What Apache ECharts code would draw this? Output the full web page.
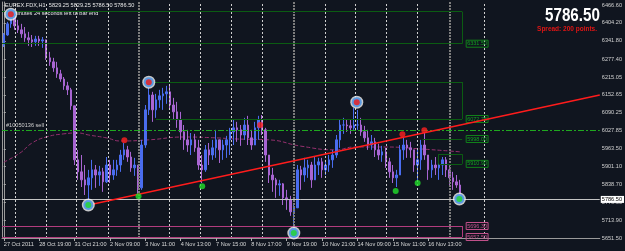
<!DOCTYPE html>
<html>
<head>
<meta charset="utf-8">
<script src="https://cdn.jsdelivr.net/npm/echarts@6/dist/echarts.min.js"></script>
<style>
html, body { margin: 0; padding: 0; background: #10151f; }
#myChart { width: 625px; height: 251px; }
</style>
</head>
<body>
<div id="myChart"></div>
<script>
// time labels, one every 10 bars
const timeLabels = ['27 Oct 2011', '28 Oct 19:00', '31 Oct 21:00', '2 Nov 09:00', '3 Nov 11:00', '4 Nov 13:00',
    '7 Nov 15:00', '8 Nov 17:00', '9 Nov 19:00', '10 Nov 21:00', '14 Nov 09:00', '15 Nov 11:00', '16 Nov 13:00'];
const priceTicks = [5651.50, 5713.90, 5776.30, 5838.70, 5901.10, 5963.50, 6027.85, 6090.25,
    6152.65, 6215.05, 6277.40, 6341.80, 6404.20, 6466.60];

const firstOpen = 6327;
const closes = [
    6362, 6401, 6429, 6394, 6380, 6366, 6352, 6345, 6338, 6348,
    6341, 6345, 6282, 6268, 6247, 6226, 6208, 6184, 6170, 6114,
    5925, 5883, 5855, 5837, 5862, 5890, 5872, 5883, 5848, 5907,
    5872, 5890, 5907, 5942, 5960, 5935, 5897, 5907, 5827, 5977,
    6100, 6152, 6100, 6135, 6149, 6156, 6163, 6117, 6093, 6065,
    6023, 5995, 5977, 5995, 5967, 5907, 5890, 5960, 5942, 5967,
    5995, 5960, 5977, 5995, 6023, 6037, 6030, 6012, 6047, 6002,
    5977, 6037, 6065, 6030, 5942, 5872, 5855, 5837, 5841, 5792,
    5785, 5743, 5757, 5890, 5872, 5897, 5907, 5855, 5907, 5918,
    5890, 5907, 5925, 5942, 5995, 6047, 6047, 6044, 6037, 6047,
    6047, 6023, 6002, 5977, 5988, 5960, 5942, 5953, 5918, 5883,
    5862, 5872, 5960, 5977, 5967, 5960, 5907, 5925, 5977, 5942,
    5890, 5907, 5897, 5907, 5925, 5890, 5862, 5848, 5837, 5786.5
];
const highs = [
    6369, 6408, 6439, 6436, 6415, 6401, 6390, 6373, 6362, 6359,
    6359, 6355, 6310, 6303, 6282, 6268, 6240, 6215, 6198, 6177,
    6019, 5960, 5942, 5907, 5890, 5925, 5907, 5904, 5897, 5935,
    5925, 5925, 5925, 5960, 5984, 5974, 5953, 5932, 5907, 5995,
    6117, 6177, 6163, 6156, 6170, 6177, 6184, 6187, 6142, 6128,
    6093, 6047, 6030, 6019, 6016, 5995, 5942, 5977, 5984, 5995,
    6030, 5988, 5995, 6009, 6037, 6065, 6058, 6047, 6072, 6079,
    6030, 6058, 6079, 6082, 6037, 5942, 5897, 5862, 5855, 5844,
    5820, 5799, 5767, 5907, 5904, 5932, 5925, 5918, 5935, 5932,
    5932, 5925, 5942, 5960, 6012, 6065, 6072, 6065, 6065, 6107,
    6100, 6072, 6044, 6030, 6012, 6002, 5981, 5974, 5967, 5932,
    5907, 5890, 5977, 6005, 5995, 5988, 5960, 5960, 5995, 6019,
    5942, 5925, 5935, 5932, 5935, 5935, 5907, 5883, 5872, 5855
];
const lows = [
    6320, 6359, 6387, 6380, 6369, 6352, 6338, 6324, 6320, 6324,
    6324, 6317, 6275, 6254, 6233, 6212, 6198, 6170, 6152, 6100,
    5907, 5855, 5830, 5802, 5781, 5820, 5827, 5834, 5813, 5844,
    5844, 5855, 5869, 5883, 5925, 5918, 5883, 5869, 5806, 5820,
    5967, 6082, 6058, 6072, 6107, 6100, 6121, 6100, 6065, 6037,
    5995, 5960, 5953, 5942, 5953, 5890, 5844, 5883, 5907, 5925,
    5932, 5914, 5925, 5932, 5942, 5977, 5988, 5974, 5995, 5977,
    5960, 5977, 5995, 6012, 5918, 5844, 5813, 5792, 5799, 5767,
    5750, 5729, 5697, 5767, 5820, 5848, 5862, 5827, 5862, 5872,
    5862, 5872, 5883, 5897, 5932, 5967, 6016, 6023, 6016, 6030,
    6030, 6009, 5988, 5960, 5960, 5935, 5925, 5918, 5897, 5862,
    5844, 5830, 5872, 5925, 5932, 5932, 5883, 5855, 5890, 5925,
    5855, 5862, 5872, 5855, 5872, 5865, 5830, 5820, 5827, 5785
];

// moving average, read at some bars: [bar, price]
const maPoints = [[0, 5917], [4.6, 5949], [8, 5984], [12, 6005], [17, 6016], [21, 6019], [24, 6012],
    [29, 6002], [33, 5991], [41, 5995], [51, 6005], [60, 6002], [66, 5998], [75, 5995], [84, 5973],
    [94, 5960], [99, 5970], [108, 5970], [118, 5963], [126, 5956], [129, 5953]];

// day separators (bar positions), the grey ones are heavier
const daySeps = [3.2, 11.9, 20.6, 29.4, 46.8, 55.5, 64.3, 73, 90.8, 99.5, 108.2, 117, 135.8];
const heavySeps = [38.1, 82, 126];

const trendLine = [[24, 5767], [168.5, 6152]];
const topRings = [[2, 6435], [41, 6197], [99.8, 6127]];
const bottomRings = [[23.9, 5767], [82, 5669], [128.8, 5788]];
const redDots = [[34.1, 5994], [72.5, 6047], [112.7, 6015], [118.9, 6029]];
const greenDots = [[38.1, 5798], [56.1, 5833], [110.8, 5816], [117, 5844]];

// levels: [price, from bar, label]
const greenLevels = [[6443.5, -0.5, ''], [6331.5, -0.5, '6331.50'], [6197.5, 41, ''],
    [6068.0, 43, '6072.75'], [5998.0, 118.4, '5998.00'], [5910.9, 122.9, '5910.90']];
const pinkLevels = [[5693.5, -0.5, '5696.30'], [5655.0, -0.5, '5657.50']];
// vertical joins at the right end of the levels: [bar, price from, price to]
const greenJoins = [[129.6, 6443.5, 6331.5], [129.6, 6197.5, 6068.0], [129.6, 5945, 5910.9], [122.9, 5945, 5910.9]];
const pinkJoins = [[129.6, 5693.5, 5655.0]];
const greenBoxTop = [[122.9, 129.6, 5945]];
const orderPrice = 6027;
const bidPrice = 5786.5;

const nCats = 169;
const levelEnd = 129.6;

let opens = [firstOpen].concat(closes.slice(0, -1));
let candles = closes.map((c, i) => [opens[i], c, lows[i], highs[i]]);
let cats = [];
for (let i = 0; i < nCats; i++) cats.push(String(i));

const smallFont = "'Liberation Sans', Arial, sans-serif";
const showLabel = (idx) => idx % 10 === 0 && idx / 10 < timeLabels.length;

let chartDom = document.getElementById('myChart');
let myChart = echarts.init(chartDom);

const greenLine = { color: '#0b5c12', width: 1, type: 'solid' };
const pinkLine = { color: '#b23c7e', width: 1, type: 'solid' };

let levelLines = [];
greenLevels.forEach(l => {
    levelLines.push([
        { coord: [l[1], l[0]], lineStyle: greenLine },
        { coord: [levelEnd, l[0]], label: {
            show: l[2] !== '', formatter: l[2], position: 'end', distance: 4,
            color: '#12a020', fontSize: 5.5, fontFamily: smallFont,
            borderColor: '#11801a', borderWidth: 1, padding: [1, 1, 0, 1]
        } }
    ]);
});
pinkLevels.forEach(l => {
    levelLines.push([
        { coord: [l[1], l[0]], lineStyle: pinkLine },
        { coord: [levelEnd, l[0]], label: {
            show: true, formatter: l[2], position: 'end', distance: 4,
            color: '#c0508a', fontSize: 5.5, fontFamily: smallFont,
            borderColor: '#c0508a', borderWidth: 1, padding: [1, 1, 0, 1]
        } }
    ]);
});
greenJoins.forEach(j => levelLines.push([{ coord: [j[0], j[1]], lineStyle: greenLine }, { coord: [j[0], j[2]] }]));
pinkJoins.forEach(j => levelLines.push([{ coord: [j[0], j[1]], lineStyle: pinkLine }, { coord: [j[0], j[2]] }]));
greenBoxTop.forEach(b => levelLines.push([{ coord: [b[0], b[2]], lineStyle: greenLine }, { coord: [b[1], b[2]] }]));

let option = {
    backgroundColor: '#10151f',
    animation: false,
    grid: { left: 2, right: 23, top: 2, bottom: 13 },
    xAxis: [{
        type: 'category',
        data: cats,
        boundaryGap: true,
        axisLine: { show: true, lineStyle: { color: '#9a9a9a', width: 1 } },
        axisTick: {
            show: true, length: 3, alignWithLabel: true,
            interval: showLabel,
            lineStyle: { color: '#b0b0b0' }
        },
        axisLabel: {
            show: true, margin: 3, align: 'left', color: '#d8d8d8',
            fontSize: 5.6, fontFamily: smallFont,
            showMinLabel: true, hideOverlap: false,
            interval: showLabel,
            formatter: (val, idx) => timeLabels[idx / 10] || ''
        },
        splitLine: { show: false }
    }, {
        type: 'value',
        min: -0.5,
        max: nCats - 0.5,
        show: false
    }],
    yAxis: [{
        type: 'value',
        position: 'right',
        min: 5651.5,
        max: 6477.5,
        axisLine: { show: true, lineStyle: { color: '#9a9a9a', width: 1 } },
        axisTick: { show: true, length: 2, customValues: priceTicks, lineStyle: { color: '#b0b0b0' } },
        axisLabel: {
            customValues: priceTicks, margin: 2, color: '#d0d0d0',
            fontSize: 5.6, fontFamily: smallFont,
            formatter: (v) => v.toFixed(2)
        },
        splitLine: { show: false }
    }, {
        type: 'value',
        position: 'left',
        min: 5651.5,
        max: 6477.5,
        axisLine: { show: true, lineStyle: { color: '#9a9a9a', width: 1 } },
        axisTick: { show: false },
        axisLabel: { show: false },
        splitLine: { show: false }
    }],
    series: [{
        // period separators and level lines
        type: 'line',
        xAxisIndex: 1,
        data: [],
        silent: true,
        z: 1,
        markLine: {
            silent: true,
            symbol: ['none', 'none'],
            label: { show: false },
            data: daySeps.map(v => ({ xAxis: v, lineStyle: { color: '#cfcfcf', width: 1, type: [2, 2] } }))
                .concat(heavySeps.map(v => ({ xAxis: v, lineStyle: { color: '#7c7c7c', width: 2, type: [2, 1] } })))
                .concat(levelLines)
        }
    }, {
        name: 'MA',
        type: 'line',
        xAxisIndex: 1,
        data: maPoints,
        smooth: true,
        symbol: 'none',
        z: 2,
        lineStyle: { color: '#96306f', width: 1, type: [4, 2] }
    }, {
        name: 'EUREX.FDX,H1',
        type: 'candlestick',
        data: candles,
        barWidth: 2,
        z: 3,
        itemStyle: {
            color: '#4a6df0',
            color0: '#a865d2',
            borderColor: '#4a6df0',
            borderColor0: '#a865d2',
            borderWidth: 1
        }
    }, {
        // order line, bid line
        type: 'line',
        xAxisIndex: 1,
        data: [],
        z: 4,
        markLine: {
            silent: true,
            symbol: ['none', 'none'],
            data: [
                { yAxis: orderPrice, label: { show: false },
                  lineStyle: { color: '#1fa81f', width: 1.2, type: [6, 2, 2, 2] } },
                { yAxis: bidPrice, lineStyle: { color: '#c4c4c4', width: 1, type: 'solid' },
                  label: { show: true, position: 'end', distance: 1, formatter: bidPrice.toFixed(2),
                           color: '#000', backgroundColor: '#ffffff', fontSize: 5.6, fontFamily: smallFont,
                           padding: [1, 2, 0, 1] } }
            ]
        }
    }, {
        name: 'trend',
        type: 'line',
        xAxisIndex: 1,
        data: trendLine,
        symbol: 'none',
        z: 5,
        lineStyle: { color: '#ff1c1c', width: 1.5 }
    }, {
        type: 'scatter',
        xAxisIndex: 1,
        data: redDots,
        symbolSize: 6,
        z: 6,
        itemStyle: { color: '#ff2020' }
    }, {
        type: 'scatter',
        xAxisIndex: 1,
        data: greenDots,
        symbolSize: 6,
        z: 6,
        itemStyle: { color: '#22e02a' }
    }, {
        type: 'scatter',
        xAxisIndex: 1,
        data: topRings.concat(bottomRings),
        symbolSize: 13,
        z: 7,
        itemStyle: { color: '#f4f4f4' }
    }, {
        type: 'scatter',
        xAxisIndex: 1,
        data: topRings.concat(bottomRings),
        symbolSize: 10,
        z: 8,
        itemStyle: { color: '#3d8fe8' }
    }, {
        type: 'scatter',
        xAxisIndex: 1,
        data: topRings,
        symbolSize: 6,
        z: 9,
        itemStyle: { color: '#f01818' }
    }, {
        type: 'scatter',
        xAxisIndex: 1,
        data: bottomRings,
        symbolSize: 6,
        z: 9,
        itemStyle: { color: '#20d82a' }
    }],
    graphic: [
        { type: 'text', left: 5, top: 2, z: 100, style: { text: 'EUREX.FDX,H1  5829.25 5829.25 5786.50 5786.50', fill: '#e6e6e6', font: "5.6px 'Liberation Sans'" } },
        { type: 'text', left: 5, top: 10, z: 5, style: { text: '35 minutes 24 seconds left to bar end', fill: '#e6e6e6', font: "5.6px 'Liberation Sans'" } },
        { type: 'text', x: 545, y: 6, scaleX: 0.8, z: 100, style: { text: '5786.50', fill: '#ffffff', font: "bold 19px 'Liberation Sans', Arial, sans-serif" } },
        { type: 'text', right: 28, top: 26, z: 100, style: { text: 'Spread: 200 points.', fill: '#e01515', font: "bold 6.5px 'Liberation Sans'" } },
        { type: 'text', left: 6, top: 122, z: 100, style: { text: '#10050136 sell', fill: '#cfcfcf', font: "5.6px 'Liberation Sans'" } }
    ]
};

option && myChart.setOption(option);
</script>
</body>
</html>
